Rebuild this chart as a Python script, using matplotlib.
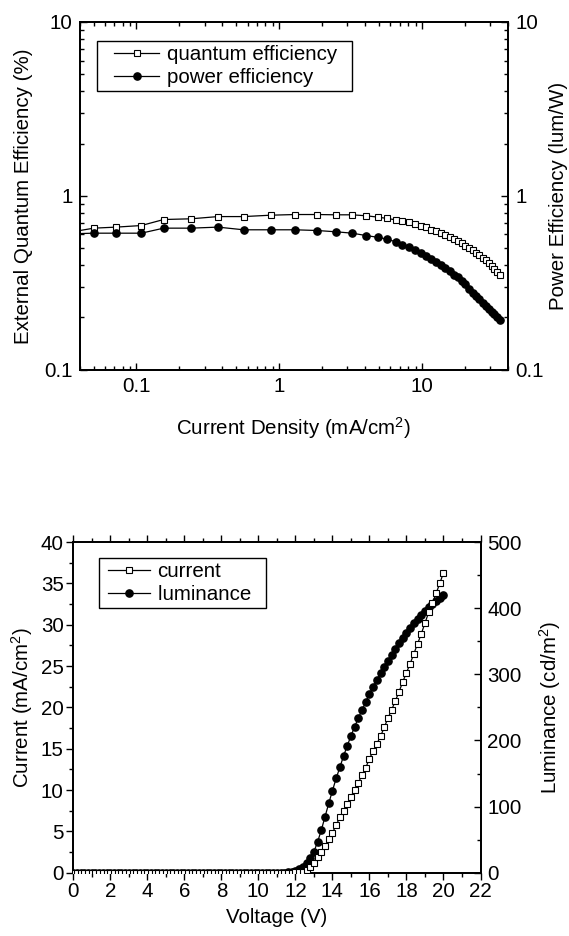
import matplotlib
matplotlib.use("Agg")
import matplotlib.pyplot as plt
from matplotlib.lines import Line2D
from matplotlib.legend_handler import HandlerLine2D
from matplotlib.ticker import LogLocator, MultipleLocator, NullFormatter, FixedFormatter, FixedLocator

plt.rcParams['font.family'] = ['Liberation Sans', 'DejaVu Sans']
plt.rcParams['mathtext.fontset'] = 'custom'
plt.rcParams['mathtext.rm'] = 'Liberation Sans'
plt.rcParams['mathtext.it'] = 'Liberation Sans:italic'
plt.rcParams['font.size'] = 14.8

# ---- top panel: efficiency vs current density ----
j_density = [0.035, 0.0503, 0.0721, 0.108, 0.155, 0.241, 0.372, 0.562, 0.869, 1.29,
             1.84, 2.51, 3.24, 4.06, 4.87, 5.72, 6.51,
             7.28, 8.11, 8.93, 9.79, 10.66, 11.55, 12.53, 13.51, 14.56, 15.62,
             16.66, 17.76, 18.93, 20.08, 21.31, 22.6, 23.86, 25.2, 26.6, 27.9,
             29.2, 30.7, 32.0, 33.6, 35.1]
eqe = [0.62, 0.652, 0.661, 0.675, 0.731, 0.738, 0.760, 0.760, 0.774, 0.781,
       0.781, 0.778, 0.778, 0.768, 0.755, 0.741, 0.728,
       0.715, 0.703, 0.687, 0.673, 0.658, 0.640, 0.627, 0.610, 0.594, 0.578,
       0.563, 0.549, 0.535, 0.518, 0.503, 0.487, 0.472, 0.456, 0.440, 0.425,
       0.410, 0.394, 0.379, 0.366, 0.350]
power_eff = [0.605, 0.610, 0.610, 0.610, 0.652, 0.652, 0.661, 0.638, 0.638, 0.638,
             0.632, 0.621, 0.610, 0.591, 0.578, 0.563, 0.544,
             0.523, 0.508, 0.49, 0.47, 0.45, 0.436, 0.418, 0.40, 0.385, 0.37,
             0.35, 0.34, 0.325, 0.31, 0.29, 0.278, 0.266, 0.254, 0.242, 0.232,
             0.224, 0.216, 0.209, 0.200, 0.192]

# ---- bottom panel: current and luminance vs voltage ----
voltage = [0.0, 0.2, 0.4, 0.6, 0.8, 1.0, 1.2, 1.4, 1.6, 1.8, 2.0, 2.2, 2.4, 2.6, 2.8,
           3.0, 3.2, 3.4, 3.6, 3.8, 4.0, 4.2, 4.4, 4.6, 4.8, 5.0, 5.2, 5.4, 5.6, 5.8,
           6.0, 6.2, 6.4, 6.6, 6.8, 7.0, 7.2, 7.4, 7.6, 7.8, 8.0, 8.2, 8.4, 8.6, 8.8,
           9.0, 9.2, 9.4, 9.6, 9.8, 10.0, 10.2, 10.4, 10.6, 10.8, 11.0, 11.2, 11.4,
           11.6, 11.8, 12.0, 12.2, 12.4, 12.6, 12.8, 13.0, 13.2, 13.4, 13.6, 13.8,
           14.0, 14.2, 14.4, 14.6, 14.8, 15.0, 15.2, 15.4, 15.6, 15.8, 16.0, 16.2,
           16.4, 16.6, 16.8, 17.0, 17.2, 17.4, 17.6, 17.8, 18.0, 18.2, 18.4, 18.6,
           18.8, 19.0, 19.2, 19.4, 19.6, 19.8, 20.0]
current = [0.0] * 60 + [0.03, 0.05,
           0.1, 0.32, 0.73, 1.2, 1.85, 2.46, 3.2, 4.03, 4.84, 5.75,
           6.7, 7.5, 8.35, 9.19, 10.05, 10.9, 11.8, 12.7, 13.8, 14.7,
           15.6, 16.5, 17.6, 18.7, 19.7, 20.8, 21.9, 23.1, 24.2, 25.3,
           26.5, 27.7, 28.9, 30.2, 31.5, 32.6, 33.8, 35.0, 36.3]
luminance = [0.0] * 57 + [0.3, 0.6, 1.2, 3.0, 5.5, 9.0, 15.0, 22.0,
             31.8, 46.9, 64.5, 84.7, 104.8, 124.0, 142.6, 159.3, 176.4, 192.0,
             206.7, 220.8, 233.9, 246.0, 258.1, 270.2, 281.3, 291.3, 301.4, 311.5,
             320.6, 329.6, 338.2, 346.8, 354.3, 362.9, 369.5, 377.0, 383.6, 390.1,
             396.2, 401.2, 406.2, 410.8, 415.3, 419.9]

fig = plt.figure(figsize=(5.69, 9.36), dpi=100)

# top panel
ax1 = fig.add_axes([0.140, 0.605, 0.753, 0.3715])
ax1.set_xscale('log')
ax1.set_yscale('log')
qe_line, = ax1.plot(j_density, eqe, '-s', color='black', lw=0.9, ms=4.2, mfc='white',
                    mec='black', mew=0.8)
pe_line, = ax1.plot(j_density, power_eff, '-o', color='black', lw=0.9, ms=5.2)
ax1.set_xlim(0.04, 40)
ax1.set_ylim(0.1, 10)
ax1.xaxis.set_major_locator(FixedLocator([0.1, 1, 10]))
ax1.xaxis.set_major_formatter(FixedFormatter(['0.1', '1', '10']))
ax1.xaxis.set_minor_locator(LogLocator(base=10, subs=range(2, 10), numticks=20))
ax1.xaxis.set_minor_formatter(NullFormatter())
ax1.yaxis.set_major_locator(FixedLocator([0.1, 1, 10]))
ax1.yaxis.set_major_formatter(FixedFormatter(['0.1', '1', '10']))
ax1.yaxis.set_minor_locator(LogLocator(base=10, subs=range(2, 10), numticks=20))
ax1.yaxis.set_minor_formatter(NullFormatter())
ax1.tick_params(which='both', direction='in', top=True, right=False, width=1.0)
ax1.tick_params(which='major', length=5, pad=5)
ax1.tick_params(which='minor', length=3)
ax1.set_xlabel('Current Density (mA/cm$^2$)', labelpad=14)
ax1.set_ylabel('External Quantum Efficiency (%)', labelpad=8)
leg1 = ax1.legend([qe_line, pe_line], ['quantum efficiency  ', 'power efficiency'],
                  loc='upper left', bbox_to_anchor=(0.040, 0.946), borderaxespad=0,
                  fancybox=False, edgecolor='black', framealpha=1, handlelength=2.85,
                  borderpad=0.2, labelspacing=0.2, handletextpad=0.35,
                  handler_map={Line2D: HandlerLine2D(xpad=0.65)})
leg1.get_frame().set_linewidth(1.0)

ax1r = ax1.twinx()
ax1r.set_yscale('log')
ax1r.set_ylim(0.1, 10)
ax1r.yaxis.set_major_locator(FixedLocator([0.1, 1, 10]))
ax1r.yaxis.set_major_formatter(FixedFormatter(['0.1', '1', '10']))
ax1r.yaxis.set_minor_locator(LogLocator(base=10, subs=range(2, 10), numticks=20))
ax1r.yaxis.set_minor_formatter(NullFormatter())
ax1r.tick_params(which='both', direction='in', width=1.0)
ax1r.tick_params(which='major', length=5, pad=5)
ax1r.tick_params(which='minor', length=3)
ax1r.set_ylabel('Power Efficiency (lum/W)', labelpad=4)
for ax in (ax1, ax1r):
    for s in ax.spines.values():
        s.set_linewidth(1.3)

# bottom panel
ax2 = fig.add_axes([0.1288, 0.0676, 0.7157, 0.3533])
l1, = ax2.plot(voltage, current, '-s', color='black', lw=0.9, ms=4.2, mfc='white',
               mec='black', mew=0.8, zorder=3)
ax2.set_xlim(0, 22)
ax2.set_ylim(0, 40)
ax2.xaxis.set_major_locator(MultipleLocator(2))
ax2.xaxis.set_minor_locator(MultipleLocator(1))
ax2.yaxis.set_major_locator(MultipleLocator(5))
ax2.yaxis.set_minor_locator(MultipleLocator(2.5))
ax2.tick_params(which='both', direction='out', top=True, right=False, width=1.0)
ax2.tick_params(which='major', length=5, pad=2)
ax2.tick_params(which='minor', length=3)
ax2.set_xlabel('Voltage (V)', labelpad=5)
ax2.set_ylabel('Current (mA/cm$^2$)', labelpad=4)

ax2r = ax2.twinx()
l2, = ax2r.plot(voltage, luminance, '-o', color='black', lw=0.9, ms=5.2)
ax2r.set_ylim(0, 500)
ax2r.yaxis.set_major_locator(MultipleLocator(100))
ax2r.yaxis.set_minor_locator(MultipleLocator(50))
ax2r.tick_params(which='both', direction='in', width=1.0)
ax2r.tick_params(which='major', length=5, pad=5)
ax2r.tick_params(which='minor', length=3)
ax2r.set_ylabel('Luminance (cd/m$^2$)', labelpad=11)
ax2.set_zorder(ax2r.get_zorder() + 1)
ax2.patch.set_visible(False)
for ax in (ax2, ax2r):
    for s in ax.spines.values():
        s.set_linewidth(1.3)

leg2 = ax2.legend([l1, l2], ['current', 'luminance  '], loc='upper left',
                  bbox_to_anchor=(0.063, 0.952), borderaxespad=0, fancybox=False,
                  edgecolor='black', framealpha=1, handlelength=2.3, borderpad=0.2,
                  labelspacing=0.2, handletextpad=0.35,
                  handler_map={Line2D: HandlerLine2D(xpad=0.25)})
leg2.get_frame().set_linewidth(1.0)

fig.savefig('out.png', dpi=100)
